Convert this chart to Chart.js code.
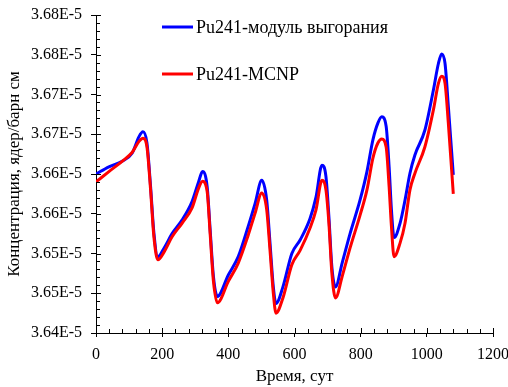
<!DOCTYPE html>
<html><head><meta charset="utf-8">
<script src="https://cdn.jsdelivr.net/npm/chart.js@4.4.1/dist/chart.umd.min.js"></script>
<style>html,body{margin:0;padding:0;background:#fff;}#wrap{width:508px;height:387px;}</style>
</head><body><div id="wrap"><canvas id="c" width="508" height="387"></canvas></div>
<script>
// Time, days
const days = [0,39,79,109,130,142,154,165,175,187,206,230,260,290,310,322,336,345,355,367,
  400,430,460,481,501,516,526,536,544,565,592,617,647,665,683,695,704,713,724,744,
  768,798,819,837,852,864,877,886,893,901,919,934,949,964,994,1020,1035,1045,1055,1065,1080];
// Concentration, units of 1E-5 nuclei/(barn cm)
const burnupModule = [3.6600,3.6609,3.6616,3.6626,3.6647,3.6653,3.6639,3.6584,3.6526,3.6496,3.6507,3.6525,3.6542,3.6565,3.6590,3.6603,3.6584,3.6530,3.6471,3.6446,
  3.6473,3.6496,3.6534,3.6563,3.6592,3.6567,3.6513,3.6458,3.6437,3.6458,3.6500,3.6517,3.6544,3.6571,3.6611,3.6597,3.6546,3.6483,3.6458,3.6488,
  3.6525,3.6567,3.6603,3.6643,3.6664,3.6672,3.6660,3.6609,3.6555,3.6520,3.6538,3.6567,3.6601,3.6624,3.6655,3.6706,3.6739,3.6751,3.6739,3.6685,3.6599];
const mcnp = [3.6590,3.6603,3.6616,3.6627,3.6641,3.6645,3.6634,3.6580,3.6521,3.6492,3.6502,3.6521,3.6538,3.6557,3.6582,3.6591,3.6578,3.6525,3.6465,3.6438,
  3.6465,3.6488,3.6523,3.6551,3.6576,3.6555,3.6504,3.6450,3.6425,3.6444,3.6486,3.6504,3.6532,3.6555,3.6592,3.6580,3.6538,3.6475,3.6444,3.6471,
  3.6507,3.6548,3.6580,3.6620,3.6639,3.6644,3.6634,3.6584,3.6534,3.6496,3.6513,3.6538,3.6580,3.6601,3.6634,3.6681,3.6714,3.6723,3.6714,3.6664,3.6575];
const seriesNames = ['Pu241-модуль выгорания', 'Pu241-MCNP'];
const xTickLabels = ['0','200','400','600','800','1000','1200'];
const yTickLabels = ['3.64E-5','3.65E-5','3.65E-5','3.66E-5','3.66E-5','3.67E-5','3.67E-5','3.68E-5','3.68E-5'];

const FONT = 'Liberation Serif, Times New Roman, serif';

const minorTicks = {
  id: 'minorTicks',
  afterDraw(chart) {
    const {ctx, chartArea, scales: {x, y}} = chart;
    ctx.save();
    ctx.strokeStyle = '#000';
    ctx.lineWidth = 1;
    ctx.beginPath();
    for (let i = 0; i <= 30; i++) {
      const px = Math.round(x.getPixelForValue(i * 40)) + 0.5;
      const len = (i % 5 === 0) ? 5 : 4;
      ctx.moveTo(px, chartArea.bottom);
      ctx.lineTo(px, chartArea.bottom - len);
    }
    for (let i = 0; i <= 40; i++) {
      const py = Math.round(y.getPixelForValue(3.64 + i * 0.001)) + 0.5;
      const len = (i % 5 === 0) ? 5 : 4;
      ctx.moveTo(chartArea.left, py);
      ctx.lineTo(chartArea.left + len, py);
    }
    ctx.stroke();
    ctx.restore();
  }
};

const innerLegend = {
  id: 'innerLegend',
  afterDatasetsDraw(chart) {
    const {ctx, chartArea} = chart;
    ctx.save();
    ctx.font = '18px ' + FONT;
    ctx.textBaseline = 'middle';
    ctx.fillStyle = '#000';
    const x0 = chartArea.left + 66;
    chart.data.datasets.forEach((ds, i) => {
      const yy = chartArea.top + 12 + i * 47;
      ctx.strokeStyle = ds.borderColor;
      ctx.lineWidth = 3;
      ctx.beginPath();
      ctx.moveTo(x0, yy);
      ctx.lineTo(x0 + 31, yy);
      ctx.stroke();
      ctx.fillText(ds.label, x0 + 34, yy + 1);
    });
    ctx.restore();
  }
};

const mk = (vals) => days.map((d, i) => ({x: d, y: vals[i]}));

new Chart(document.getElementById('c'), {
  type: 'line',
  data: {
    datasets: [
      {label: seriesNames[0], data: mk(burnupModule), borderColor: '#0000FF', borderWidth: 3,
       pointRadius: 0, cubicInterpolationMode: 'monotone', fill: false, order: 1},
      {label: seriesNames[1], data: mk(mcnp), borderColor: '#FF0000', borderWidth: 3,
       pointRadius: 0, cubicInterpolationMode: 'monotone', fill: false, order: 0}
    ]
  },
  options: {
    responsive: false,
    animation: false,
    devicePixelRatio: 1,
    layout: {padding: {top: 15, right: 15, left: 0, bottom: 0}},
    plugins: {legend: {display: false}, tooltip: {enabled: false}},
    scales: {
      x: {
        type: 'linear', min: 0, max: 1200,
        ticks: {stepSize: 200, color: '#000', padding: 8, maxRotation: 0,
          font: {family: FONT, size: 16},
          callback: (v, i) => xTickLabels[i]},
        grid: {display: true, drawOnChartArea: false, drawTicks: true, tickLength: 4, color: '#000', lineWidth: 1},
        border: {display: true, color: '#000', width: 1},
        title: {display: true, text: 'Время, сут', color: '#000', font: {family: FONT, size: 17}, padding: {top: 0, bottom: 0}},
        afterFit: (s) => { s.height = 54; s.paddingLeft = 0; s.paddingRight = 0; }
      },
      y: {
        type: 'linear', min: 3.64, max: 3.68,
        ticks: {stepSize: 0.005, color: '#000', padding: 9,
          font: {family: FONT, size: 16},
          callback: (v, i) => yTickLabels[i]},
        grid: {display: true, drawOnChartArea: false, drawTicks: true, tickLength: 5, color: '#000', lineWidth: 1},
        border: {display: true, color: '#000', width: 1},
        title: {display: true, text: 'Концентрация, ядер/барн см', color: '#000', font: {family: FONT, size: 17}, padding: {top: 4, bottom: 0}},
        afterFit: (s) => { s.width = 96; s.paddingTop = 0; s.paddingBottom = 0; }
      }
    }
  },
  plugins: [minorTicks, innerLegend]
});
</script></body></html>
